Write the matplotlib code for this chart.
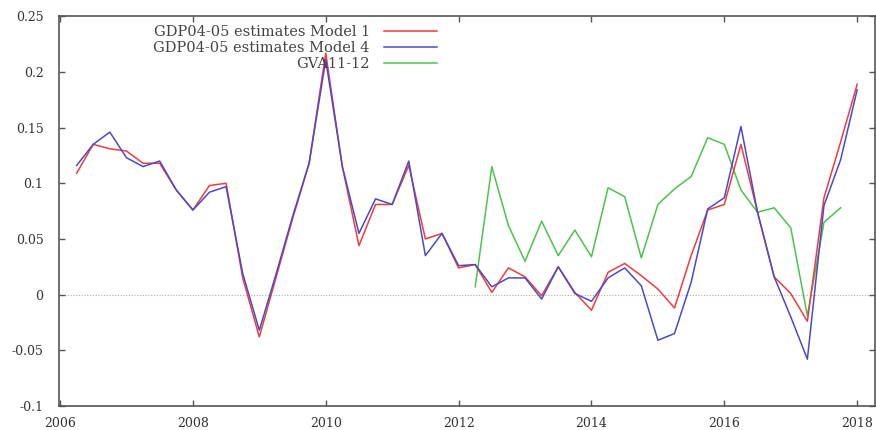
# -*- coding: utf-8 -*-

import numpy as np
from matplotlib import pyplot as plt
from matplotlib.ticker import FixedLocator, FuncFormatter

# quarterly growth estimates, 2006Q2 .. 2018Q1
quarters = 2006.25 + 0.25 * np.arange(48)

model1 = [0.109, 0.135, 0.131, 0.129, 0.118, 0.118, 0.094, 0.076,
          0.098, 0.100, 0.015, -0.038, 0.015, 0.068, 0.118, 0.217,
          0.115, 0.044, 0.081, 0.081, 0.116, 0.050, 0.055, 0.024,
          0.027, 0.002, 0.024, 0.016, -0.001, 0.025, 0.002, -0.014,
          0.020, 0.028, 0.017, 0.005, -0.012, 0.035, 0.076, 0.081,
          0.135, 0.074, 0.016, 0.001, -0.024, 0.087, 0.137, 0.189]

model4 = [0.116, 0.135, 0.146, 0.123, 0.115, 0.120, 0.094, 0.076,
          0.092, 0.097, 0.019, -0.032, 0.018, 0.070, 0.118, 0.211,
          0.115, 0.055, 0.086, 0.081, 0.120, 0.035, 0.055, 0.026,
          0.027, 0.007, 0.015, 0.015, -0.004, 0.025, 0.001, -0.006,
          0.015, 0.024, 0.008, -0.041, -0.035, 0.011, 0.077, 0.087,
          0.151, 0.074, 0.016, -0.020, -0.058, 0.080, 0.121, 0.184]

# GVA series only starts in 2012Q3
gva_quarters = quarters[24:47]
gva = [0.007, 0.115, 0.062, 0.030, 0.066, 0.035, 0.058, 0.034,
       0.096, 0.088, 0.033, 0.081, 0.095, 0.106, 0.141, 0.135,
       0.094, 0.074, 0.078, 0.060, -0.019, 0.065, 0.078]

x_ticks = [2006, 2008, 2010, 2012, 2014, 2016, 2018]
y_ticks = [-0.1, -0.05, 0, 0.05, 0.1, 0.15, 0.2, 0.25]

plt.rcParams['font.family'] = ['DejaVu Serif']

fig = plt.figure(figsize=(8.76, 4.30), dpi=100)
ax = fig.add_axes([0.067, 0.056, 0.932, 0.906])

ax.axhline(0, color='#b0b0b0', lw=0.8, ls=(0, (1, 1.5)), zorder=1)
ax.plot(quarters, model1, color='#f03c3c', lw=1.1, label='GDP04-05 estimates Model 1', zorder=3)
ax.plot(quarters, model4, color='#4a4ac8', lw=1.1, label='GDP04-05 estimates Model 4', zorder=3)
ax.plot(gva_quarters, gva, color='#4cc34c', lw=1.1, label='GVA11-12', zorder=2)

ax.set_xlim(2005.98, 2018.27)
ax.set_ylim(-0.1, 0.25)
ax.xaxis.set_major_locator(FixedLocator(x_ticks))
ax.yaxis.set_major_locator(FixedLocator(y_ticks))
ax.yaxis.set_major_formatter(FuncFormatter(lambda v, p: '%g' % round(v, 3)))

for s in ax.spines.values():
    s.set_color('#555555')
    s.set_linewidth(1.2)
ax.tick_params(direction='in', length=4, width=1, color='#555555',
               top=True, right=True, labelsize=9, labelcolor='#333333')
ax.tick_params(axis='x', pad=8)
ax.tick_params(axis='y', pad=11)

leg = ax.legend(loc='upper right', bbox_to_anchor=(0.474, 1.0), frameon=False,
                markerfirst=False, fontsize=10.5, handlelength=3.6,
                handletextpad=1.0, labelspacing=0.15, borderaxespad=0.2)
for t in leg.get_texts():
    t.set_color('#444444')

fig.savefig('out.png', dpi=100)
plt.close()
